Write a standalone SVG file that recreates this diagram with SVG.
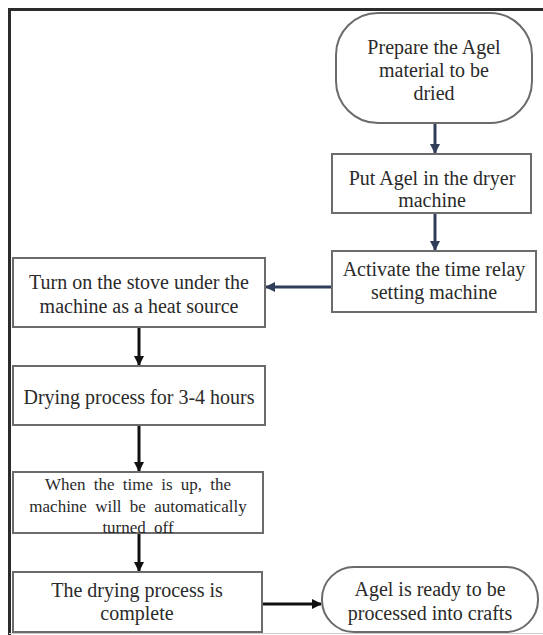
<svg xmlns="http://www.w3.org/2000/svg" width="543" height="635" viewBox="0 0 543 635">
<defs>
<style>
.frame{fill:none;stroke:#2b2b2b;stroke-width:3}
.box{fill:#ffffff;stroke:#6b6b6b;stroke-width:2}
.t{font-family:'Liberation Serif','DejaVu Serif',serif;font-size:20px;fill:#2a2a2a;text-anchor:middle;dominant-baseline:central}
.ts{font-size:17px;word-spacing:4px}
.cn{fill:none;stroke-width:3}
.navy{stroke:#2f3d58}
.blk{stroke:#111111}
</style>
<marker id="ahN" viewBox="0 0 10 10" refX="9" refY="5" markerWidth="3.4" markerHeight="3.4" orient="auto" markerUnits="strokeWidth">
<path d="M0,0 L10,5 L0,10 z" fill="#2f3d58"/>
</marker>
<marker id="ahB" viewBox="0 0 10 10" refX="9" refY="5" markerWidth="3.4" markerHeight="3.4" orient="auto" markerUnits="strokeWidth">
<path d="M0,0 L10,5 L0,10 z" fill="#111111"/>
</marker>
</defs>
<rect width="543" height="635" fill="#ffffff"/>
<path class="frame" d="M9.5,635 L9.5,9.5 L543,9.5"/>
<line x1="9" y1="633.5" x2="543" y2="633.5" stroke="#cccccc" stroke-width="1"/>

<g id="connectors">
<line class="cn navy" x1="435" y1="123" x2="435" y2="153" marker-end="url(#ahN)"/>
<line class="cn navy" x1="435" y1="213" x2="435" y2="250" marker-end="url(#ahN)"/>
<line class="cn navy" x1="332" y1="287" x2="266" y2="287" marker-end="url(#ahN)"/>
<line class="cn blk" x1="139" y1="327" x2="139" y2="365" marker-end="url(#ahB)"/>
<line class="cn blk" x1="139" y1="425" x2="139" y2="471" marker-end="url(#ahB)"/>
<line class="cn blk" x1="139" y1="533" x2="139" y2="571" marker-end="url(#ahB)"/>
<line class="cn blk" x1="262" y1="604" x2="321" y2="604" marker-end="url(#ahB)"/>
</g>

<g id="n1">
<rect class="box" x="336" y="13" width="196" height="110" rx="42" ry="42"/>
<text class="t" x="434" y="47">Prepare the Agel</text>
<text class="t" x="434" y="70">material to be</text>
<text class="t" x="434" y="93">dried</text>
</g>
<g id="n2">
<rect class="box" x="332" y="154" width="199" height="59"/>
<text class="t" x="432" y="178">Put Agel in the dryer</text>
<text class="t" x="432" y="200">machine</text>
</g>
<g id="n3">
<rect class="box" x="332" y="251" width="204" height="61"/>
<text class="t" x="434" y="269">Activate the time relay</text>
<text class="t" x="434" y="292">setting machine</text>
</g>
<g id="n4">
<rect class="box" x="13" y="258" width="252" height="69"/>
<text class="t" x="139" y="282">Turn on the stove under the</text>
<text class="t" x="139" y="306">machine as a heat source</text>
</g>
<g id="n5">
<rect class="box" x="13" y="366" width="252" height="59"/>
<text class="t" x="139" y="397">Drying process for 3-4 hours</text>
</g>
<g id="n6">
<rect class="box" x="13" y="472" width="250" height="61"/>
<text class="t ts" x="138" y="484">When the time is up, the</text>
<text class="t ts" x="138" y="506">machine will be automatically</text>
<text class="t ts" x="138" y="527">turned off</text>
</g>
<g id="n7">
<rect class="box" x="13" y="572" width="249" height="60"/>
<text class="t" x="137" y="590">The drying process is</text>
<text class="t" x="137" y="613">complete</text>
</g>
<g id="n8">
<rect class="box" x="322" y="567" width="216" height="65" rx="32" ry="32"/>
<text class="t" x="430" y="589">Agel is ready to be</text>
<text class="t" x="430" y="613">processed into crafts</text>
</g>
</svg>
